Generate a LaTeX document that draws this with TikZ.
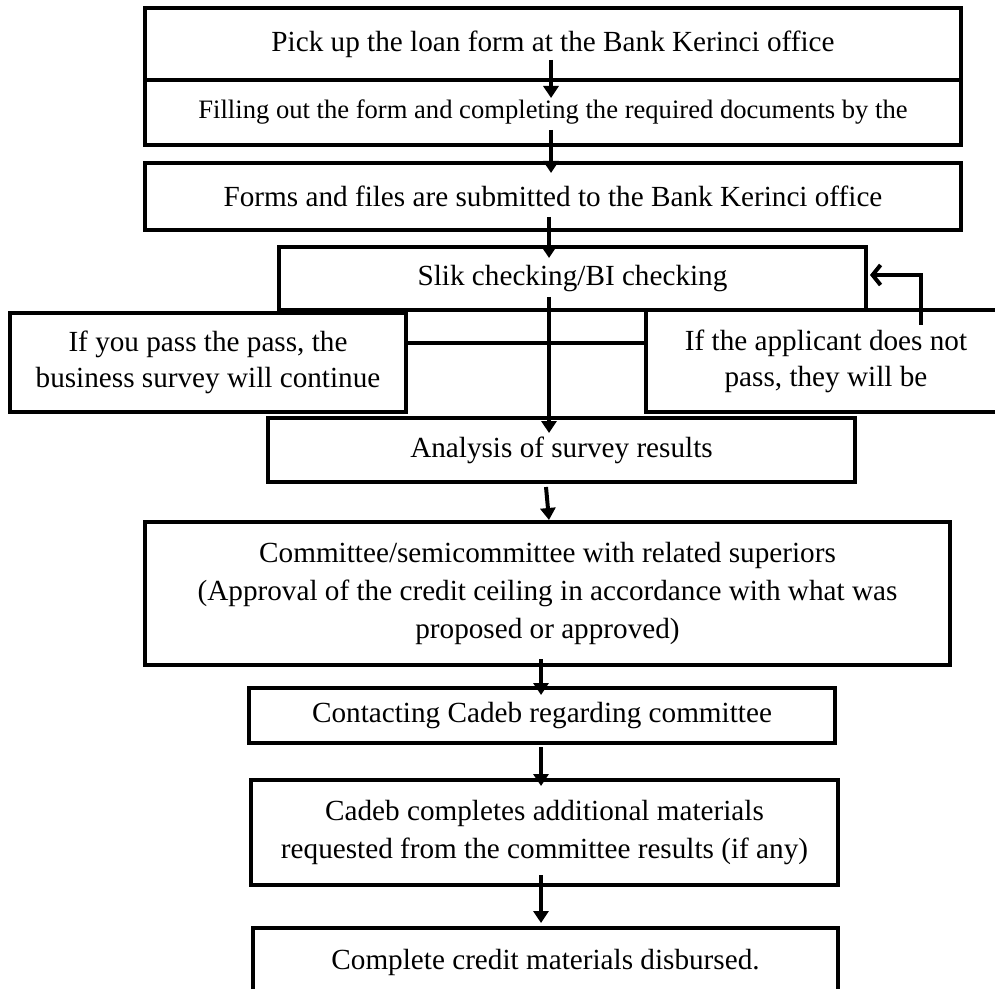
\documentclass[tikz,border=0pt]{standalone}
\usepackage{fontspec}
\setmainfont{Liberation Serif}
\usetikzlibrary{arrows.meta,calc}
\begin{document}
\begin{tikzpicture}[x=0.5pt,y=-0.5pt,
  box/.style={draw, line width=2pt, rectangle, inner sep=0pt, align=center,
    font=\fontsize{14.6}{19.2}\selectfont},
  arr/.style={line width=2pt, -{Triangle[length=6pt,width=7.5pt]}},
  fb/.style={line width=2pt, -{Straight Barb[length=4pt,width=10pt,line width=2pt]}},
  conn/.style={line width=2pt}]
\useasboundingbox (0,0) rectangle (995,989);

\node[box, minimum width=408pt, minimum height=36pt] (b1) at (553,44)
  {Pick up the loan form at the Bank Kerinci office};
\node[box, minimum width=408pt, minimum height=32.5pt,
  font=\fontsize{13.3}{16}\selectfont] (b2) at (553,112.5)
  {Filling out the form and completing the required documents by the};
\node[box, minimum width=408pt, minimum height=33.5pt] (b3) at (553,196.5)
  {Forms and files are submitted to the Bank Kerinci office};
\node[box, minimum width=293.5pt, minimum height=31.5pt] (b4) at (572.5,278.5)
  {Slik checking/BI checking};
\node[box, minimum width=198pt, minimum height=49.5pt,
  font=\fontsize{14.6}{18}\selectfont] (left) at (208,362.5)
  {If you pass the pass, the\\business survey will continue};
\node[box, minimum width=180pt, minimum height=51pt,
  font=\fontsize{14.6}{18}\selectfont] (right) at (826,361)
  {If the applicant does not\\pass, they will be};
\node[box, minimum width=293.5pt, minimum height=32pt] (ana) at (561.5,450)
  {Analysis of survey results};
\node[box, minimum width=402.5pt, minimum height=71.5pt] (com) at (547.5,593.5)
  {Committee/semicommittee with related superiors\\(Approval of the credit ceiling in accordance with what was\\proposed or approved)};
\node[box, minimum width=293pt, minimum height=27.5pt] (con) at (542,715.5)
  {Contacting Cadeb regarding committee};
\node[box, minimum width=293.5pt, minimum height=52.5pt] (cad) at (544.5,832.5)
  {Cadeb completes additional materials\\requested from the committee results (if any)};
\node[box, minimum width=292.5pt, minimum height=34pt] (fin) at (545.5,962)
  {Complete credit materials disbursed.};

\draw[arr] ($(b1.south)+(-2,-22)$) -- ($(b2.north)+(-2,20)$);
\draw[arr] ($(b2.south)+(-2,-17)$) -- ($(b3.north)+(-2,12)$);
\draw[arr] ($(b3.south)+(-4,-15)$) -- ($(b4.north)+(-23.5,13)$);
\draw[arr] ($(b4.south)+(-23.5,-15)$) -- ($(ana.north)+(-12.5,17)$);
\draw[conn] ($(left.east)+(0,-19.5)$) -- ($(right.west)+(0,-18)$);
\draw[fb] ($(right.north)+(95,17)$) |- ($(b4.east)+(2,-3.5)$);
\draw[arr] ($(ana.south)+(-15.5,3)$) -- ($(com.north)+(1.5,0)$);
\draw[arr] ($(com.south)+(-6.5,-8)$) -- ($(con.north)+(-1,9)$);
\draw[arr] ($(con.south)+(-1,2)$) -- ($(cad.north)+(-3.5,8)$);
\draw[arr] ($(cad.south)+(-3.5,-12)$) -- ($(fin.north)+(-4.5,-3)$);
\end{tikzpicture}
\end{document}
